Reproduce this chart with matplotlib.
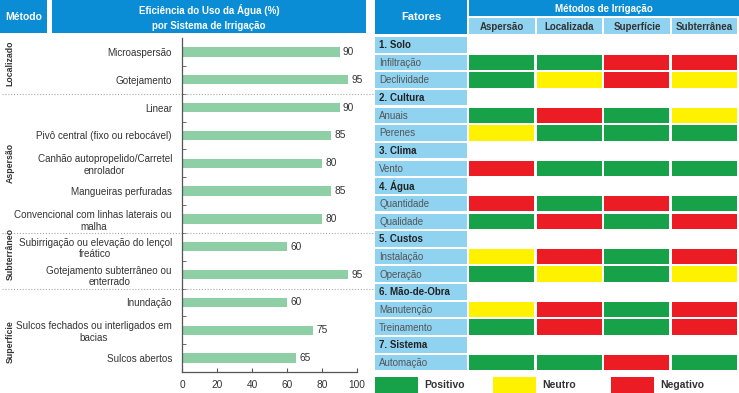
import matplotlib
matplotlib.use('Agg')
import numpy as np
import matplotlib.pyplot as plt
from matplotlib.patches import Rectangle
from matplotlib.transforms import blended_transform_factory

plt.rcParams['font.family'] = ['Liberation Sans', 'DejaVu Sans']

# ---------------- data: left chart ----------------
sistemas = [
    "Microaspersão", "Gotejamento", "Linear", "Pivô central (fixo ou rebocável)",
    "Canhão autopropelido/Carretel\nenrolador", "Mangueiras perfuradas",
    "Convencional com linhas laterais ou\nmalha",
    "Subirrigação ou elevação do lençol\nfreático",
    "Gotejamento subterrâneo ou\nenterrado", "Inundação",
    "Sulcos fechados ou interligados em\nbacias", "Sulcos abertos",
]
eficiencia = [90, 95, 90, 85, 80, 85, 80, 60, 95, 60, 75, 65]
grupos = ["Localizado", "Aspersão", "Subterrâneo", "Superfície"]
grupo_tamanho = [2, 5, 2, 3]
x_ticks = [0, 20, 40, 60, 80, 100]

# ---------------- data: right table ----------------
metodos = ["Aspersão", "Localizada", "Superfície", "Subterrânea"]
secoes = ["1. Solo", "2. Cultura", "3. Clima", "4. Água", "5. Custos",
          "6. Mão-de-Obra", "7. Sistema"]
fatores = [["Infiltração", "Declividade"], ["Anuais", "Perenes"], ["Vento"],
           ["Quantidade", "Qualidade"], ["Instalação", "Operação"],
           ["Manutenção", "Treinamento"], ["Automação"]]
P, N, X = "Positivo", "Neutro", "Negativo"
aspersao    = [P, P, P, N, X, X, P, N, P, N, P, P]
localizada  = [P, N, X, P, P, P, X, X, N, X, X, P]
superficie  = [X, X, P, P, P, X, P, P, P, P, P, X]
subterranea = [X, N, N, P, P, P, X, X, N, X, X, P]
avaliacoes = [aspersao, localizada, superficie, subterranea]
legenda = [P, N, X]

# ---------------- styles / layout ----------------
BLUE = '#0b8dd6'
LIGHT = '#8fd3f1'
BARG = '#8ecfa5'
COLS = {P: '#17a24a', N: '#fff200', X: '#ec1c24'}
TXT = '#333333'
grupo_desloc = [-0.1, 0.0, -0.25, 0.4]   # label placement tweaks (rows)

W, H = 739, 393
fig = plt.figure(figsize=(W / 100, H / 100), dpi=100)


def fr(x0, y0, x1, y1):
    return [x0 / W, 1 - y1 / H, (x1 - x0) / W, (y1 - y0) / H]


# overlay for decorations (pixel coordinates)
ov = fig.add_axes([0, 0, 1, 1], zorder=0)
ov.set_xlim(0, W)
ov.set_ylim(H, 0)
ov.axis('off')

# headers
ov.add_patch(Rectangle((0, 0), 47, 33, color=BLUE, lw=0))
ov.text(23.5, 17, "Método", color='white', weight='bold', fontsize=7.5,
        ha='center', va='center')
ov.add_patch(Rectangle((52, 0), 314, 33, color=BLUE, lw=0))
ov.text(209, 17.5, "Eficiência do Uso da Água (%)\npor Sistema de Irrigação",
        color='white', weight='bold', fontsize=7.0, ha='center', va='center',
        linespacing=1.55)
ov.add_patch(Rectangle((375, 0), 92, 34, color=BLUE, lw=0))
ov.text(421, 17, "Fatores", color='white', weight='bold', fontsize=8,
        ha='center', va='center')
ov.add_patch(Rectangle((469, 0), 270, 16, color=BLUE, lw=0))
ov.text(604, 8.5, "Métodos de Irrigação", color='white', weight='bold',
        fontsize=7.0, ha='center', va='center')
for j, m in enumerate(metodos):
    x0 = 469 + 67.5 * j
    ov.add_patch(Rectangle((x0, 18), 65.5, 16, color=LIGHT, lw=0))
    ov.text(x0 + 33, 26.5, m, color=TXT, weight='bold', fontsize=7,
            ha='center', va='center')

# legend
for k, lab in enumerate(legenda):
    x0 = 375 + 118 * k
    ov.add_patch(Rectangle((x0, 377), 43, 16, color=COLS[lab], lw=0))
    ov.text(x0 + 49, 385, lab, color=TXT, weight='bold', fontsize=7.5,
            ha='left', va='center')

# ---------------- bar chart ----------------
ax = fig.add_axes(fr(182, 38, 357, 372), zorder=2)
ax.patch.set_alpha(0)
ypos = np.arange(len(sistemas))
bars = ax.barh(ypos, eficiencia, height=0.34, color=BARG)
ax.bar_label(bars, labels=[str(v) for v in eficiencia], padding=2.5,
             fontsize=7.3, color=TXT)
ax.set_xlim(0, 100)
ax.set_ylim(len(sistemas) - 0.5, -0.5)
ax.set_xticks(x_ticks)
ax.set_xticklabels([str(t) for t in x_ticks], fontsize=7.3, color=TXT)
ax.set_yticks(ypos)
ax.set_yticklabels(sistemas, fontsize=7.15, color=TXT)
for lbl in ax.get_yticklabels():
    lbl.set_multialignment('center')
ax.set_yticks(np.arange(0.5, len(sistemas) - 0.5, 1), minor=True)
ax.tick_params(axis='y', which='major', length=0, pad=7.2)
ax.tick_params(axis='y', which='minor', direction='in', length=3,
               color='#555555')
ax.tick_params(axis='x', direction='in', length=3, color='#555555', pad=6)
for s in ['top', 'right']:
    ax.spines[s].set_visible(False)
for s in ['left', 'bottom']:
    ax.spines[s].set_color('#555555')
    ax.spines[s].set_linewidth(0.9)

# group separators & labels
tr = blended_transform_factory(fig.transFigure, ax.transData)
bounds = np.cumsum([0] + grupo_tamanho) - 0.5
for b in bounds[1:-1]:
    ax.plot([2 / W, 374 / W], [b, b], transform=tr, clip_on=False,
            color='#a8a8a8', lw=0.8, ls=(0, (1, 1.6)))
for g, lo, hi, d in zip(grupos, bounds[:-1], bounds[1:], grupo_desloc):
    ax.text(10 / W, (lo + hi) / 2 + d, g, transform=tr, rotation=90,
            weight='bold', fontsize=6.3, color=TXT, ha='center', va='center')

# ---------------- right table ----------------
nrows = len(secoes) + sum(len(f) for f in fatores)
pitch = 17.65
ta = fig.add_axes(fr(375, 37, 739, 37 + nrows * pitch), zorder=1)
ta.axis('off')
lab_left = -94 / 67.5
lab_w = 92 / 67.5
ta.set_xlim(lab_left, 4)
ta.set_ylim(nrows, 0)
r = 0
k = 0
for sec, items in zip(secoes, fatores):
    ta.barh(r, lab_w, left=lab_left, height=0.88, align='edge', color=LIGHT)
    ta.text(lab_left + 4 / 67.5, r + 0.46, sec, weight='bold', fontsize=7,
            color='#222222', va='center', ha='left')
    r += 1
    for it in items:
        ta.barh(r, lab_w, left=lab_left, height=0.88, align='edge', color=LIGHT)
        ta.text(lab_left + 4 / 67.5, r + 0.46, it, fontsize=7,
                color='#555555', va='center', ha='left')
        for j, col in enumerate(avaliacoes):
            ta.barh(r, 0.97, left=j, height=0.88, align='edge',
                    color=COLS[col[k]])
        k += 1
        r += 1

fig.savefig('out.png', dpi=100)
